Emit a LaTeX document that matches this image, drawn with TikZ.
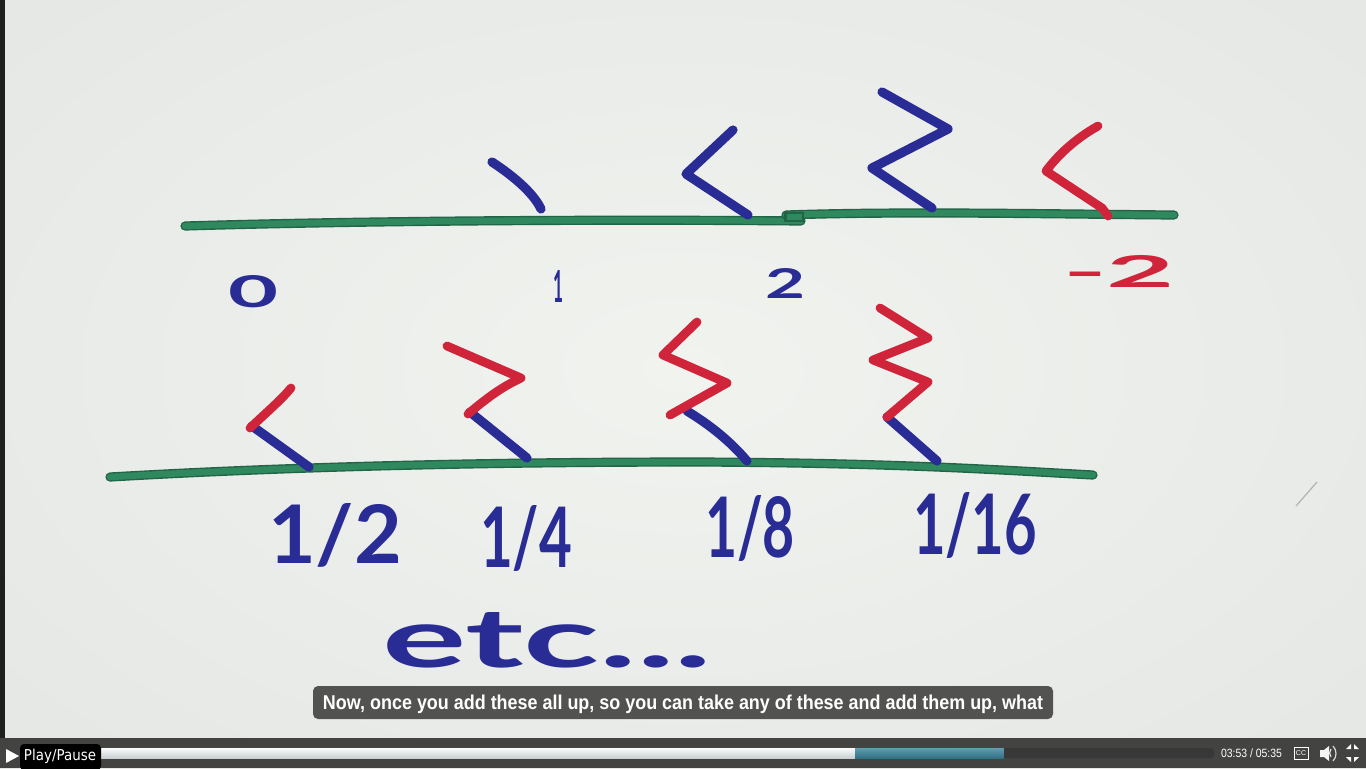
\documentclass[tikz,border=0pt]{standalone}
\usepackage{fontspec}
\usepackage{graphicx}
\newfontfamily\hand{Lato}
\newfontfamily\uifont{Liberation Sans}
\newfontfamily\tipfont{DejaVu Sans}
\definecolor{hblue}{RGB}{42,44,150}
\definecolor{hred}{RGB}{208,36,58}
\definecolor{hgreen}{RGB}{48,136,94}
\definecolor{gdark}{RGB}{34,100,70}
\definecolor{boardlo}{RGB}{229,232,229}
\definecolor{boardhi}{RGB}{241,243,239}
\definecolor{barbg}{RGB}{67,67,65}
\definecolor{subbg}{RGB}{82,83,81}
\definecolor{teal}{RGB}{58,132,155}
\definecolor{tracklight}{RGB}{214,222,224}
\begin{document}
\begin{tikzpicture}[x=0.5pt,y=-0.5pt,
  bluestroke/.style={draw=hblue, line width=4.6pt, line cap=round, line join=round},
  redstroke/.style={draw=hred, line width=4.4pt, line cap=round, line join=round},
  greenstroke/.style={draw=hgreen, line width=3.2pt, line cap=round, line join=round,
     preaction={draw=gdark, line width=4.6pt, line cap=round}},
  lbl/.style={anchor=north west, inner sep=0pt, outer sep=0pt, text=hblue, font=\hand\bfseries},
  rlbl/.style={lbl, text=hred},
  uitext/.style={text=white, inner sep=0pt, outer sep=0pt}]
\useasboundingbox (0,0) rectangle (1366,768);
% board
\fill[boardlo] (0,0) rectangle (1366,738);
\shade[inner color=boardhi, outer color=boardlo] (-200,-150) rectangle (1566,888);
\fill[boardlo] (0,738) rectangle (1366,900);
\fill[black!88] (0,0) rectangle (5,738);
% faint smudge
\draw[gray!60, line width=0.6pt] (1296,506) -- (1317,482);

% top ground line
\draw[greenstroke] (185,226) .. controls (350,221) and (600,219) .. (801,221);
\draw[greenstroke] (786,215) .. controls (900,211) and (1050,214) .. (1174,215);
\fill[gdark] (784,212) rectangle (804,222);
\fill[hgreen] (787,214) rectangle (802,220);

% top strokes
\draw[bluestroke] (492,162) .. controls (515,177) and (534,194) .. (541,209);
\draw[bluestroke] (733,130) -- (686,174) -- (748,215);
\draw[bluestroke] (882,92) -- (948,129) -- (872,168) -- (932,208);
\draw[redstroke] (1098,126) .. controls (1075,139) and (1058,155) .. (1046,171) -- (1102,208) -- (1108,216);

% top labels
\node[lbl] (l0) at (228,275) {\resizebox{25pt}{16pt}{0}};
\node[lbl] (l1) at (553,270) {\resizebox{5pt}{16pt}{1}};
\node[lbl] (l2) at (765,268) {\resizebox{20pt}{15pt}{2}};
\node[rlbl] (lm2) at (1063,255) {\resizebox{56pt}{16pt}{-2}};

% bottom ground line
\draw[greenstroke] (110,477) .. controls (300,466) and (500,462) .. (700,462) .. controls (900,463) and (1000,470) .. (1093,475);

% 1/2
\draw[bluestroke] (309,467) -- (252,426);
\draw[redstroke] (250,428) .. controls (268,411) and (281,400) .. (291,388);
% 1/4
\draw[bluestroke] (527,458) -- (470,412);
\draw[redstroke] (468,414) .. controls (489,396) and (504,386) .. (521,378) -- (447,346);
% 1/8
\draw[bluestroke] (747,461) .. controls (730,441) and (710,425) .. (687,411);
\draw[redstroke] (670,415) -- (727,383) -- (663,355) -- (697,322);
% 1/16
\draw[bluestroke] (937,461) -- (887,417);
\draw[redstroke] (887,417) -- (928,382) -- (873,360) -- (928,338) -- (880,308);

% bottom labels
\node[lbl] (lh) at (268,503) {\resizebox{67pt}{30pt}{1/2}};
\node[lbl] (lq) at (480,505) {\resizebox{46pt}{31pt}{1/4}};
\node[lbl] (le) at (705,495) {\resizebox{45pt}{31pt}{1/8}};
\node[lbl] (ls) at (913,492) {\resizebox{62pt}{31pt}{1/16}};
\node[lbl] (etc) at (382,612) {\resizebox{165pt}{27.5pt}{etc...}};

% subtitle
\fill[subbg, rounded corners=2.5pt] (313,686) rectangle (1053,719);
\node[uitext, anchor=base, font=\uifont\bfseries\fontsize{10}{12}\selectfont] (sub) at (683,709)
  {\resizebox{360pt}{\height}{Now, once you add these all up, so you can take any of these and add them up, what}};

% control bar
\fill[barbg] (0,738) rectangle (1366,768);
\shade[top color=white!90!tracklight, bottom color=tracklight!85!gray] (100,748) rectangle (855,758);
\shade[top color=teal!80!white, bottom color=teal!85!black] (855,748) rectangle (1004,758);
\fill[black!78, rounded corners=1.5pt] (1004,748) rectangle (1214,758);
\fill[black!78] (1004,748) rectangle (1010,758);
% play icon and tooltip
\fill[white] (6,749) -- (19,756) -- (6,763) -- cycle;
\fill[black, rounded corners=2pt] (20,744) rectangle (101,770);
\node[uitext, anchor=base west, font=\tipfont\fontsize{7.5}{9}\selectfont] (tip) at (24,760)
  {\resizebox{36pt}{\height}{Play/Pause}};
% time
\node[uitext, anchor=base west, font=\uifont\fontsize{6}{7}\selectfont] (time) at (1221,757)
  {\resizebox{30.5pt}{\height}{03:53 / 05:35}};
% cc
\draw[white, line width=0.5pt] (1294,747) rectangle (1308,759);
\node[uitext, font=\uifont\fontsize{3.5}{4}\selectfont] (cc) at (1301,753) {CC};
% speaker
\fill[white!92!gray] (1320,750) -- (1324,750) -- (1329,746) -- (1329,761) -- (1324,757) -- (1320,757) -- cycle;
\draw[white!80!gray, line width=0.6pt] (1331,749) arc (-40:40:-3pt);
\draw[white!70!gray, line width=0.6pt] (1333,746) .. controls (1337,750) and (1337,757) .. (1333,761);
% fullscreen
\fill[white] (1346,749) -- (1351,749) -- (1351,744) -- cycle;
\fill[white] (1359,749) -- (1354,749) -- (1354,744) -- cycle;
\fill[white] (1346,757) -- (1351,757) -- (1351,762) -- cycle;
\fill[white] (1359,757) -- (1354,757) -- (1354,762) -- cycle;
\end{tikzpicture}
\end{document}
